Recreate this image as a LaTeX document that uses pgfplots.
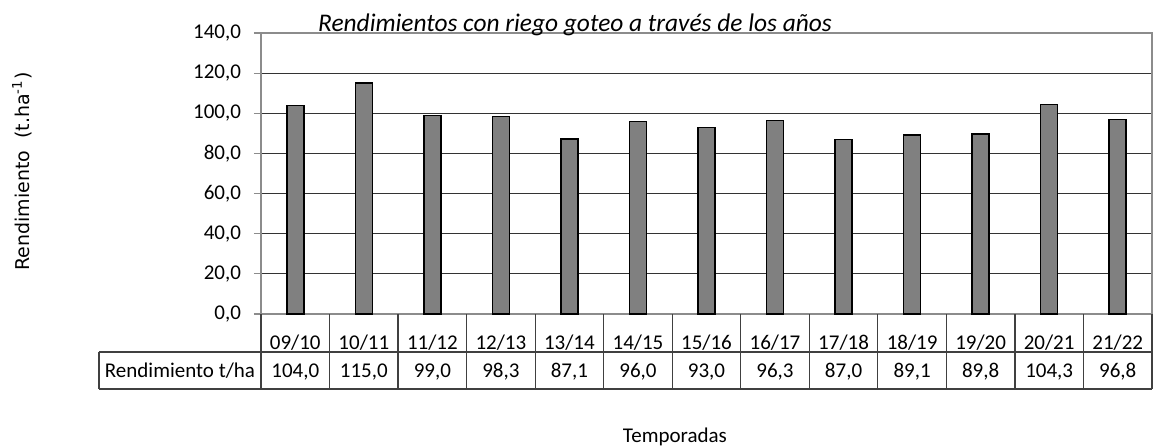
\documentclass[border=0pt]{standalone}
\usepackage{fontspec}
\setmainfont{Carlito}
\newfontfamily\dejavu{DejaVu Sans}
\usepackage{pgfplots}
\pgfplotsset{compat=1.18}

\definecolor{barfill}{HTML}{808080}
\definecolor{frame}{HTML}{8C8C8C}
\definecolor{tbl}{HTML}{404040}

\pgfplotstableread{
x  y
0  104.0
1  115.0
2  99.0
3  98.3
4  87.1
5  96.0
6  93.0
7  96.3
8  87.0
9  89.1
10 89.8
11 104.3
12 96.8
}\yields

\begin{document}
\begin{tikzpicture}
% 1 px of the reference = 0.5pt, origin at the top left corner
\useasboundingbox (0,0) rectangle (576.5pt,-223.5pt);
\begin{axis}[
  at={(130.5pt,-157pt)}, anchor=south west,
  scale only axis, width=445.5pt, height=140.5pt,
  ybar, bar width=8.5pt,
  xmin=-0.5, xmax=12.5, ymin=0, ymax=140,
  ytick={0,20,...,140},
  xtick={0,...,12},
  xticklabels={09/10,10/11,11/12,12/13,13/14,14/15,15/16,16/17,17/18,18/19,19/20,20/21,21/22},
  x tick style={draw=none},
  xticklabel style={anchor=base, yshift=-14pt, font=\fontsize{10.5}{12}\selectfont},
  tick align=outside, major tick length=3.5pt, ytick pos=left,
  y tick style={frame, line width=0.6pt},
  yticklabel style={font=\fontsize{10.5}{12}\selectfont, xshift=-3pt},
  /pgf/number format/.cd, assume math mode=true, fixed, fixed zerofill, precision=1, use comma, 1000 sep={},
  /pgfplots/.cd,
  ymajorgrids, grid style={black!80, line width=0.5pt},
  axis line style={frame, line width=0.6pt},
  clip=false,
  every axis title shift=0pt,
  title={Rendimientos con riego goteo a través de los años},
  title style={at={(rel axis cs:0.3524,1)}, anchor=base, yshift=0.8pt, font=\itshape\fontsize{12.7}{14}\selectfont},
  xlabel={Temporadas},
  xlabel style={at={(rel axis cs:0.4646,0)}, anchor=base, yshift=-64pt, font=\fontsize{10.5}{12}\selectfont},
  ylabel={Rendimiento\ \ (t.ha\textsuperscript{-1})},
  ylabel style={at={(rel axis cs:0,0.507)}, anchor=center, yshift=119.5pt, font=\dejavu\fontsize{9.5}{11}\selectfont},
  visualization depends on={y \as \rawy},
  nodes near coords={\pgfmathprintnumber{\pgfplotspointmeta}},
  every node near coord/.append style={anchor=base, shift={(axis direction cs:0,-\rawy)}, yshift=-31.5pt, font=\fontsize{10.5}{12}\selectfont, black},
]
\addplot[fill=barfill, draw=black, line width=0.75pt] table[x=x, y=y] {\yields};

% data table grid below the axis
\pgfplotsinvokeforeach{-0.5,0.5,...,12.5}{
  \draw[tbl, line width=0.6pt] (axis cs:#1,0) -- ([yshift=-37.5pt]axis cs:#1,0);
}
\draw[tbl, line width=0.6pt] ([xshift=-81pt,yshift=-19pt]axis cs:-0.5,0) -- ([yshift=-19pt]axis cs:12.5,0);
\draw[tbl, line width=0.6pt] ([xshift=-81pt,yshift=-37.5pt]axis cs:-0.5,0) -- ([yshift=-37.5pt]axis cs:12.5,0);
\draw[tbl, line width=0.6pt] ([xshift=-81pt,yshift=-19pt]axis cs:-0.5,0) -- ([xshift=-81pt,yshift=-37.5pt]axis cs:-0.5,0);
\node[anchor=base, font=\fontsize{10.5}{12}\selectfont] at ([xshift=-40.5pt,yshift=-31.5pt]axis cs:-0.5,0) {Rendimiento t/ha};
\end{axis}
\end{tikzpicture}
\end{document}
